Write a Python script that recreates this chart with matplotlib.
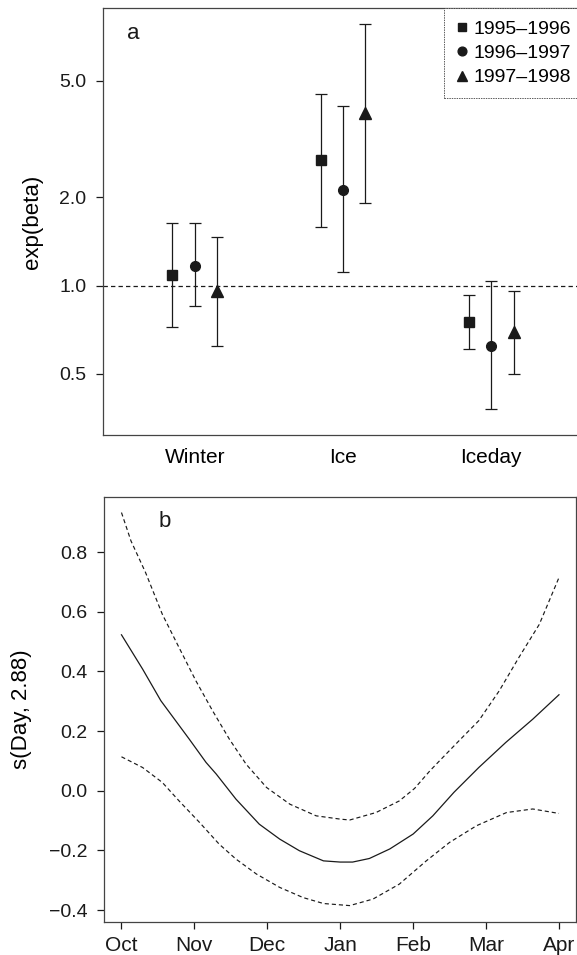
import numpy as np
import matplotlib
matplotlib.use('Agg')
import matplotlib.pyplot as plt

plt.rcParams['font.family'] = ['Liberation Sans', 'DejaVu Sans']

# Panel a: exp(beta) with confidence limits, per season
categories = ['Winter', 'Ice', 'Iceday']
seasons = ['1995\u20131996', '1996\u20131997', '1997\u20131998']
est_9596 = [1.09, 2.68, 0.75]
low_9596 = [0.72, 1.58, 0.607]
high_9596 = [1.64, 4.50, 0.927]
est_9697 = [1.17, 2.12, 0.624]
low_9697 = [0.85, 1.11, 0.378]
high_9697 = [1.64, 4.12, 1.04]
est_9798 = [0.96, 3.90, 0.693]
low_9798 = [0.62, 1.92, 0.50]
high_9798 = [1.46, 7.82, 0.96]
yticks_a = [0.5, 1.0, 2.0, 5.0]

# Panel b: smooth term for Day with +/- 2 se bands
months = ['Oct', 'Nov', 'Dec', 'Jan', 'Feb', 'Mar', 'Apr']
fit_x = [0.00, 0.29, 0.54, 0.93, 1.16, 1.30, 1.57, 1.89, 2.17, 2.44, 2.77,
         3.00, 3.17, 3.40, 3.68, 4.00, 4.27, 4.56, 4.90, 5.27, 5.64, 6.00]
fit_y = [0.523, 0.408, 0.302, 0.173, 0.095, 0.056, -0.028, -0.112, -0.162,
         -0.201, -0.235, -0.239, -0.239, -0.227, -0.195, -0.145, -0.084,
         -0.005, 0.078, 0.162, 0.240, 0.322]
up_x = [0.00, 0.13, 0.33, 0.56, 0.79, 1.02, 1.25, 1.48, 1.71, 1.99, 2.31,
        2.67, 3.00, 3.13, 3.49, 3.81, 4.02, 4.23, 4.36, 4.63, 4.90, 5.18,
        5.45, 5.73, 6.00]
up_y = [0.933, 0.838, 0.732, 0.592, 0.480, 0.369, 0.268, 0.173, 0.089, 0.011,
        -0.045, -0.084, -0.095, -0.098, -0.073, -0.034, 0.008, 0.067, 0.100,
        0.168, 0.235, 0.335, 0.447, 0.558, 0.715]
lo_x = [0.00, 0.29, 0.56, 0.79, 1.07, 1.34, 1.57, 1.85, 2.17, 2.49, 2.77,
        3.13, 3.45, 3.81, 4.18, 4.50, 4.87, 5.28, 5.64, 6.00]
lo_y = [0.114, 0.078, 0.028, -0.034, -0.106, -0.179, -0.229, -0.279, -0.324,
        -0.358, -0.378, -0.385, -0.363, -0.313, -0.235, -0.173, -0.117,
        -0.073, -0.061, -0.076]
yticks_b = [-0.4, -0.2, 0.0, 0.2, 0.4, 0.6, 0.8]

ink = '#1a1a1a'
spine_col = '#444444'

fig = plt.figure(figsize=(5.77, 9.55), dpi=100)

# ---------------- panel a ----------------
ax = fig.add_axes([0.1785, 0.5445, 0.8319, 0.4468])
ax.set_yscale('log')
x = np.arange(1, len(categories) + 1)
off = 0.151
series = [(est_9596, low_9596, high_9596, 's', 6.5),
          (est_9697, low_9697, high_9697, 'o', 7.0),
          (est_9798, low_9798, high_9798, '^', 8.0)]
handles = []
for i, (est, lo, hi, mk, ms) in enumerate(series):
    est = np.array(est)
    err = [est - np.array(lo), np.array(hi) - est]
    xs = x + (i - 1) * off
    ax.errorbar(xs, est, yerr=err, fmt='none', ecolor=ink, elinewidth=0.9,
                capsize=4, capthick=0.9)
    h, = ax.plot(xs, est, linestyle='none', marker=mk, markersize=ms,
                 color=ink, label=seasons[i])
    handles.append(h)

ax.axhline(1.0, color=ink, linestyle=(0, (3.5, 2.5)), linewidth=0.9)
ax.set_xlim(0.38, 3.62)
ax.set_ylim(0.309, 8.85)
ax.set_xticks(x)
ax.set_xticklabels(categories, fontsize=15)
ax.tick_params(axis='x', length=0, pad=9)
ax.yaxis.set_major_locator(matplotlib.ticker.FixedLocator(yticks_a))
ax.yaxis.set_minor_locator(matplotlib.ticker.NullLocator())
ax.set_yticklabels(['%.1f' % v for v in yticks_a], fontsize=14)
ax.tick_params(axis='y', length=5, width=0.9, pad=7, colors=ink)
ax.set_ylabel('exp(beta)', fontsize=16, labelpad=12)
ax.text(0.05, 0.942, 'a', transform=ax.transAxes, fontsize=16, va='center',
        color=ink)
leg = ax.legend(handles=handles, loc='upper right', fontsize=14,
                frameon=True, fancybox=False, borderaxespad=0,
                handlelength=0.7, handletextpad=0.25, borderpad=0.6,
                labelspacing=0.35, markerscale=0.9)
leg.get_frame().set_edgecolor('#333333')
leg.get_frame().set_linewidth(0.7)
leg.get_frame().set_linestyle((0, (1.5, 1)))
for sp in ax.spines.values():
    sp.set_color(spine_col)
    sp.set_linewidth(0.9)

# ---------------- panel b ----------------
bx = fig.add_axes([0.1802, 0.03455, 0.8189, 0.445])
bx.plot(fit_x, fit_y, color=ink, linewidth=0.9)
bx.plot(up_x, up_y, color=ink, linewidth=0.85, linestyle=(0, (3.5, 2.5)))
bx.plot(lo_x, lo_y, color=ink, linewidth=0.85, linestyle=(0, (3.5, 2.5)))
bx.set_xlim(-0.24, 6.24)
bx.set_ylim(-0.44, 0.985)
bx.set_xticks(range(len(months)))
bx.set_xticklabels(months, fontsize=15)
bx.set_yticks(yticks_b)
bx.set_yticklabels(['%.1f' % v if v >= 0 else '\u2212%.1f' % abs(v)
                    for v in yticks_b], fontsize=14)
bx.tick_params(axis='x', length=5, width=0.9, pad=5, colors=ink)
bx.tick_params(axis='y', length=5, width=0.9, pad=7, colors=ink)
bx.set_ylabel('s(Day, 2.88)', fontsize=16, labelpad=12)
bx.text(0.115, 0.942, 'b', transform=bx.transAxes, fontsize=16,
        va='center', color=ink)
for sp in bx.spines.values():
    sp.set_color(spine_col)
    sp.set_linewidth(0.9)

fig.savefig('out.png', dpi=100)
